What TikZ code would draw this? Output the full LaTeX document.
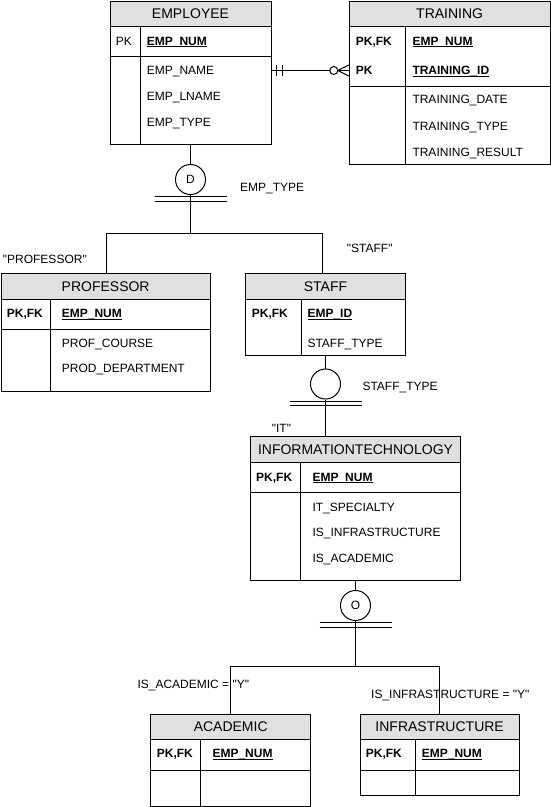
\documentclass[tikz,border=0pt]{standalone}
\usepackage{fontspec}
\setmainfont{Liberation Sans}
\newfontfamily\plainf{Liberation Sans}
\usetikzlibrary{fit,calc}
\definecolor{hdr}{RGB}{224,224,224}
\newcommand\myul[1]{\setbox0\hbox{#1}\rlap{\rule[-1.7pt]{\wd0}{0.7pt}}\box0}
\newcommand\fa{\fontsize{12}{14}\selectfont}
\newcommand\fb{\fontsize{14}{16}\selectfont}
\tikzset{
 ebox/.style={draw, line width=1pt, inner sep=0pt},
 sep/.style={line width=1pt},
 fld/.style={anchor=base west, inner sep=0pt, font=\fa},
 kfld/.style={fld, font=\fa\bfseries},
 ttl/.style={anchor=base, inner sep=0pt, font=\fb},
 conn/.style={line width=1pt},
 bar/.style={line width=0.8pt},
 disc/.style={circle, draw, line width=1pt, minimum size=30pt, inner sep=0pt, font=\fa},
 lbl/.style={anchor=base west, inner sep=0pt, font=\plainf\fa},
}
\newcommand\erent[9]{%
 \fill[hdr] (#2,#3) rectangle (#4,#6);
 \node[ebox, fit={(#2,#3) (#4,#5)}] (#1) {};
 \draw[sep] (#2,#6) -- (#4,#6);
 \draw[sep] (#2,#7) -- (#4,#7);
 \draw[sep] (#8,#6) -- (#8,#5);
 \node[ttl] (#1t) at ({(#2+#4)/2},{(#3+#6)/2+5}) {#9};
}
\begin{document}
\begin{tikzpicture}[x=1pt,y=-1pt]
\useasboundingbox (0,0) rectangle (551,807);
% entities
\erent{emp}{110}{1}{271}{144}{26}{56.7}{140.7}{EMPLOYEE}
\erent{tr}{349.3}{1}{550}{164}{26}{86}{405.3}{TRAINING}
\erent{prof}{1}{273.3}{210.3}{391.7}{299.3}{329}{50.7}{PROFESSOR}
\erent{staff}{245.7}{273.3}{405.3}{355}{299.3}{355}{301.3}{STAFF}
\erent{it}{250.3}{436.7}{460.7}{580.7}{462.7}{492.3}{300.3}{INFORMATIONTECHNOLOGY}
\erent{acad}{150.7}{714}{310.7}{806}{739.3}{770}{200.7}{ACADEMIC}
\erent{inf}{360}{714}{519.3}{795.7}{739.3}{770}{415.7}{INFRASTRUCTURE}
% EMPLOYEE fields
\node[fld] (e1) at (115.7,45) {PK};
\node[kfld] (e2) at (146.7,45) {\myul{EMP\_NUM}};
\node[fld] (e3) at (146.7,74.6) {EMP\_NAME};
\node[fld] (e4) at (146.7,100.3) {EMP\_LNAME};
\node[fld] (e5) at (146.7,126) {EMP\_TYPE};
% TRAINING fields
\node[kfld] (t1) at (355.7,45) {PK,FK};
\node[kfld] (t2) at (412.3,45) {\myul{EMP\_NUM}};
\node[kfld] (trpk) at (355.7,74.6) {PK};
\node[kfld] (t4) at (412.3,74.6) {\myul{TRAINING\_ID}};
\node[fld] (t5) at (412.3,103.6) {TRAINING\_DATE};
\node[fld] (t6) at (412.3,130) {TRAINING\_TYPE};
\node[fld] (t7) at (412.3,156) {TRAINING\_RESULT};
% PROFESSOR fields
\node[kfld] (p1) at (6.7,317.6) {PK,FK};
\node[kfld] (p2) at (61.7,317.6) {\myul{EMP\_NUM}};
\node[fld] (p3) at (61.7,347) {PROF\_COURSE};
\node[fld] (p4) at (61.7,372.6) {PROD\_DEPARTMENT};
% STAFF fields
\node[kfld] (s1) at (251.7,317.6) {PK,FK};
\node[kfld] (s2) at (307.3,317.6) {\myul{EMP\_ID}};
\node[fld] (s3) at (307.3,347) {STAFF\_TYPE};
% IT fields
\node[kfld] (i1) at (256,481) {PK,FK};
\node[kfld] (i2) at (312.3,481) {\myul{EMP\_NUM}};
\node[fld] (i3) at (312.3,511) {IT\_SPECIALTY};
\node[fld] (i4) at (312.3,536.6) {IS\_INFRASTRUCTURE};
\node[fld] (i5) at (312.3,562.6) {IS\_ACADEMIC};
% ACADEMIC / INFRASTRUCTURE fields
\node[kfld] (a1) at (156.7,757.6) {PK,FK};
\node[kfld] (a2) at (212.3,757.6) {\myul{EMP\_NUM}};
\node[kfld] (n1) at (365.7,757.6) {PK,FK};
\node[kfld] (n2) at (421.7,757.6) {\myul{EMP\_NUM}};
% discriminator circles
\node[disc] (dd) at (190.5,179.5) {D};
\node[disc] (ds) at (325.5,384) {};
\node[disc] (do) at (355.5,605.5) {O};
\foreach \c in {dd,ds,do}{
  \draw[bar] ($(\c.south)+(-36,1.5)$) -- ($(\c.south)+(36,1.5)$);
  \draw[bar] ($(\c.south)+(-36,6)$) -- ($(\c.south)+(36,6)$);
}
% labels
\node[lbl] (l1) at (240,191) {EMP\_TYPE};
\node[lbl] (l2) at (2.7,263.3) {"PROFESSOR"};
\node[lbl] (l3) at (346.7,252.6) {"STAFF"};
\node[lbl] (l4) at (362.3,390) {STAFF\_TYPE};
\node[lbl] (l5) at (271.7,432.6) {"IT"};
% connectors: EMPLOYEE hierarchy
\coordinate (j1) at (190.5,233.3);
\draw[conn] (emp.south) -- (dd.north);
\draw[conn] (dd.south) -- (j1);
\draw[conn] (j1) -| ([xshift=0.6pt]prof.north);
\draw[conn] (j1) -| ([xshift=-2.8pt]staff.north);
% STAFF -> IT
\draw[conn] (staff.south) -- (ds.north);
\draw[conn] (ds.south) -- (ds.south |- it.north);
% IT -> ACADEMIC / INFRASTRUCTURE
\coordinate (j3) at (355.5,666.3);
\draw[conn] (it.south) -- (do.north);
\draw[conn] (do.south) -- (j3);
\draw[conn] (j3) -| (acad.north);
\draw[conn] (j3) -| (inf.north);
\node[lbl] (l6) at (137.3,688.3) {IS\_ACADEMIC = "Y"};
\node[lbl] (l7) at (371,698.3) {IS\_INFRASTRUCTURE = "Y"};
% EMPLOYEE - TRAINING relationship
\draw[conn] (emp.east |- trpk) -- (tr.west |- trpk);
\draw[conn] ($(emp.east |- trpk)+(5,-5.5)$) -- +(0,11);
\draw[conn] ($(emp.east |- trpk)+(11,-5.5)$) -- +(0,11);
\draw[conn] ($(tr.west |- trpk)+(-11,0)$) -- ($(tr.west |- trpk)+(0,-5.5)$);
\draw[conn] ($(tr.west |- trpk)+(-11,0)$) -- ($(tr.west |- trpk)+(0,5.5)$);
\draw[conn, fill=white] ($(tr.west |- trpk)+(-15,0)$) circle (4pt);
\end{tikzpicture}
\end{document}
